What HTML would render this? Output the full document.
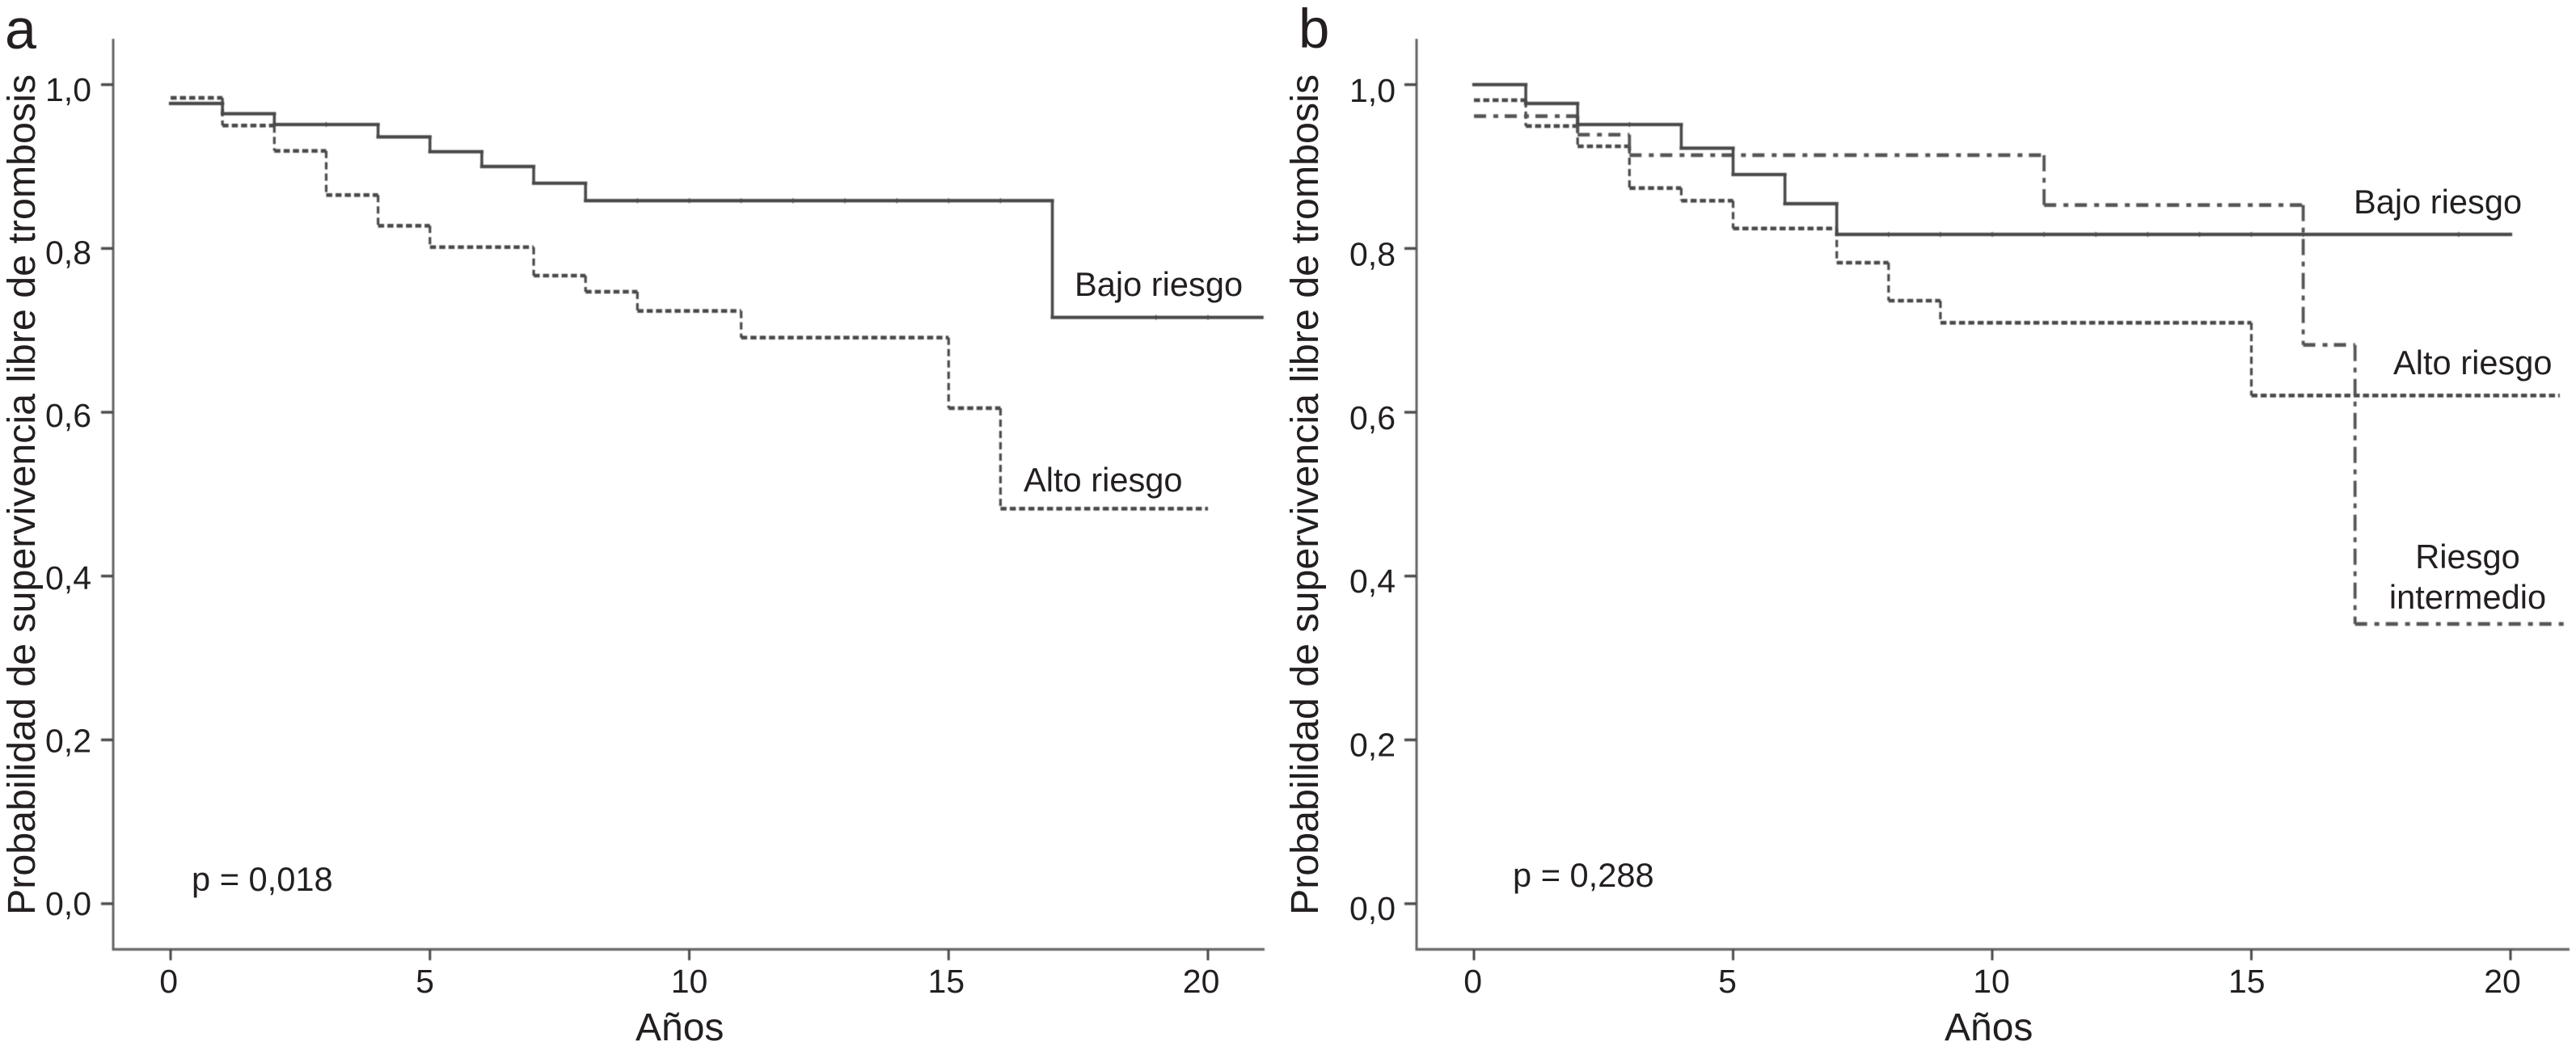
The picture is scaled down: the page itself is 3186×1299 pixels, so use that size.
<!DOCTYPE html>
<html lang="es">
<head>
<meta charset="utf-8">
<title>Probabilidad de supervivencia libre de trombosis</title>
<style>
html,body{margin:0;padding:0;background:#fff;}
svg{display:block;}
text{font-family:"Liberation Sans",Arial,sans-serif;fill:#231f20;}
</style>
</head>
<body>
<svg id="figure" xmlns="http://www.w3.org/2000/svg" width="3186" height="1299" viewBox="0 0 3186 1299">
  <defs>
    <filter id="soft" x="-5%" y="-5%" width="110%" height="110%" filterUnits="objectBoundingBox"><feGaussianBlur stdDeviation="0.6"/></filter>
  </defs>
  <rect x="0" y="0" width="3186" height="1299" fill="#fff"/>

  <g id="panel-a">
    <text x="6" y="60" font-size="70">a</text>
    <text transform="translate(43 1132) rotate(-90)" font-size="48" textLength="1040" lengthAdjust="spacingAndGlyphs">Probabilidad de supervivencia libre de trombosis</text>
    <text x="786" y="1287" font-size="48">Años</text>
    <text x="1329" y="366" font-size="41.6">Bajo riesgo</text>
    <text x="1266" y="608" font-size="41.6">Alto riesgo</text>
    <text x="237" y="1102" font-size="41.6">p = 0,018</text>
  </g>

  <g id="panel-b">
    <text x="1606" y="59" font-size="69">b</text>
    <text transform="translate(1630 1132) rotate(-90)" font-size="48" textLength="1040" lengthAdjust="spacingAndGlyphs">Probabilidad de supervivencia libre de trombosis</text>
    <text x="2405" y="1287" font-size="48">Años</text>
    <text x="2911" y="264" font-size="41.6">Bajo riesgo</text>
    <text x="2960" y="463" font-size="41.6">Alto riesgo</text>
    <text x="3052" y="703" font-size="41.6" text-anchor="middle">Riesgo</text>
    <text x="3052" y="753" font-size="41.6" text-anchor="middle">intermedio</text>
    <text x="1871" y="1097" font-size="41.6">p = 0,288</text>
  </g>
</svg>

<script>
// ---- shared axis values ----
const yTickValues = [1.0, 0.8, 0.6, 0.4, 0.2, 0.0];
const yTickLabels = ['1,0', '0,8', '0,6', '0,4', '0,2', '0,0'];
const xTickValues = [0, 5, 10, 15, 20];
const xTickLabels = ['0', '5', '10', '15', '20'];

// ---- panel a series: step times (years) and survival after each step ----
const aBajoTimes = [0, 1, 2, 4, 5, 6, 7, 8, 17];
const aBajoSurvival = [0.977, 0.9645, 0.9513, 0.9362, 0.9181, 0.900, 0.8796, 0.8583, 0.7158];
const aBajoEnd = 21.04;
const aBajoCensored = [3, 9, 10, 11, 12, 13, 14, 15, 16, 19, 20];

const aAltoTimes = [0, 1, 2, 3, 4, 5, 7, 8, 9, 11, 15, 16];
const aAltoSurvival = [0.9839, 0.9501, 0.9191, 0.8652, 0.8277, 0.8016, 0.7668, 0.7471, 0.7237, 0.6911, 0.605, 0.4823];
const aAltoEnd = 20;

// ---- panel b series ----
const bBajoTimes = [0, 1, 2, 4, 5, 6, 7];
const bBajoSurvival = [1.0, 0.977, 0.9513, 0.9224, 0.8902, 0.8546, 0.8171];
const bBajoEnd = 20;
const bBajoCensored = [3, 8, 9, 10, 11, 12, 13, 14, 15, 16, 19];

const bAltoTimes = [0, 1, 2, 3, 4, 5, 7, 8, 9, 15];
const bAltoSurvival = [0.981, 0.9494, 0.9247, 0.8737, 0.8583, 0.8243, 0.7826, 0.7362, 0.7093, 0.6204];
const bAltoEnd = 20.95;

const bInterTimes = [0, 2, 3, 11, 16, 17];
const bInterSurvival = [0.9615, 0.9389, 0.9139, 0.853, 0.6822, 0.3415];
const bInterEnd = 21.05;

// ---- drawing ----
const NS = 'http://www.w3.org/2000/svg';

function make(parent, tag, attrs, text) {
  const e = document.createElementNS(NS, tag);
  for (const k in attrs) e.setAttribute(k, attrs[k]);
  if (text !== undefined) e.textContent = text;
  parent.appendChild(e);
  return e;
}

function axisFunctions(x0, perYear) {
  return {
    x: function (t) { return x0 + perYear * t; },
    y: function (s) { return 1118 - 1013.3 * s; }
  };
}

function drawAxes(panel, prefix, opt, ax) {
  const g = make(panel, 'g', { filter: 'url(#soft)' });
  
  

  const yAxis = make(g, 'line', { x1: opt.axisX, x2: opt.axisX, y1: 48, y2: 1175.5, stroke: '#666', 'stroke-width': 3 });
  
  

  const xAxis = make(g, 'line', { x1: opt.axisX - 1.5, x2: opt.axisEnd, y1: 1174.5, y2: 1174.5, stroke: '#666', 'stroke-width': 3.2 });
  
  

  yTickValues.forEach(function (v, i) {
    const tick = make(g, 'line', { x1: opt.axisX - 15, x2: opt.axisX, y1: ax.y(v), y2: ax.y(v), stroke: '#4c4c4c', 'stroke-width': 3.4 });
    
    
    const label = make(panel, 'text', {
      x: opt.yLabelRight,
      y: opt.yLabelTop + (1 - v) * opt.yLabelSpan,
      'font-size': 41,
      'text-anchor': 'end'
    }, yTickLabels[i]);
    
    
  });

  xTickValues.forEach(function (v, i) {
    const tick = make(g, 'line', { x1: ax.x(v), x2: ax.x(v), y1: 1174.5, y2: 1188, stroke: '#4c4c4c', 'stroke-width': 3 });
    
    
    const label = make(panel, 'text', {
      x: ax.x(v) + opt.xLabelNudge[i],
      y: 1228,
      'font-size': 41,
      'text-anchor': 'middle'
    }, xTickLabels[i]);
    
    
  });
}

function drawSteps(panel, name, ax, times, survival, end, style, censored) {
  const g = make(panel, 'g', { fill: 'none', stroke: style.color, filter: 'url(#soft)' });
  
  

  times.forEach(function (t, i) {
    const next = i + 1 < times.length ? times[i + 1] : end;
    const h = make(g, 'line', {
      x1: ax.x(t), x2: ax.x(next), y1: ax.y(survival[i]), y2: ax.y(survival[i]),
      'stroke-width': style.hWidth,
      'stroke-dasharray': style.hDash,
      'stroke-linecap': style.cap
    });
    
    
    if (i + 1 < times.length) {
      const v = make(g, 'line', {
        x1: ax.x(next), x2: ax.x(next), y1: ax.y(survival[i]), y2: ax.y(survival[i + 1]),
        'stroke-width': style.vWidth,
        'stroke-dasharray': style.vDash,
        'stroke-linecap': style.cap
      });
      
      
    }
  });

  (censored || []).forEach(function (c) {
    let s = survival[0];
    times.forEach(function (t, i) { if (t <= c) s = survival[i]; });
    const m = make(g, 'line', { x1: ax.x(c), x2: ax.x(c), y1: ax.y(s) - 3, y2: ax.y(s) + 3, 'stroke-width': 1.4 });
    
    
  });
}

const solidStyle = { color: '#4a4a4a', hWidth: 4.2, vWidth: 3.6, hDash: 'none', vDash: 'none', cap: 'square' };
const dottedStyle = { color: '#4a4a4a', hWidth: 4.6, vWidth: 3.2, hDash: '7.5 4', vDash: '9 5', cap: 'butt' };
const dashDotStyle = { color: '#555', hWidth: 4.6, vWidth: 3.8, hDash: '15 9 6 8', vDash: '20 8 6 8', cap: 'butt' };

const panelA = document.getElementById('panel-a');
const panelB = document.getElementById('panel-b');
const axA = axisFunctions(211, 64.15);
const axB = axisFunctions(1823, 64.1);

drawAxes(panelA, 'panel-a', {
  axisX: 140, axisEnd: 1564, yLabelRight: 113, yLabelTop: 125, yLabelSpan: 1007,
  xLabelNudge: [-2.3, -6.2, 0, -3, -8.4]
}, axA);
drawAxes(panelB, 'panel-b', {
  axisX: 1752, axisEnd: 3178, yLabelRight: 1726, yLabelTop: 126, yLabelSpan: 1012,
  xLabelNudge: [-1.3, -7, -1, -5.7, -10]
}, axB);

drawSteps(panelA, 'panel-a-alto-riesgo-curve', axA, aAltoTimes, aAltoSurvival, aAltoEnd, dottedStyle);
drawSteps(panelA, 'panel-a-bajo-riesgo-curve', axA, aBajoTimes, aBajoSurvival, aBajoEnd, solidStyle, aBajoCensored);

drawSteps(panelB, 'panel-b-alto-riesgo-curve', axB, bAltoTimes, bAltoSurvival, bAltoEnd, dottedStyle);
drawSteps(panelB, 'panel-b-riesgo-intermedio-curve', axB, bInterTimes, bInterSurvival, bInterEnd, dashDotStyle);
drawSteps(panelB, 'panel-b-bajo-riesgo-curve', axB, bBajoTimes, bBajoSurvival, bBajoEnd, solidStyle, bBajoCensored);
</script>
</body>
</html>
